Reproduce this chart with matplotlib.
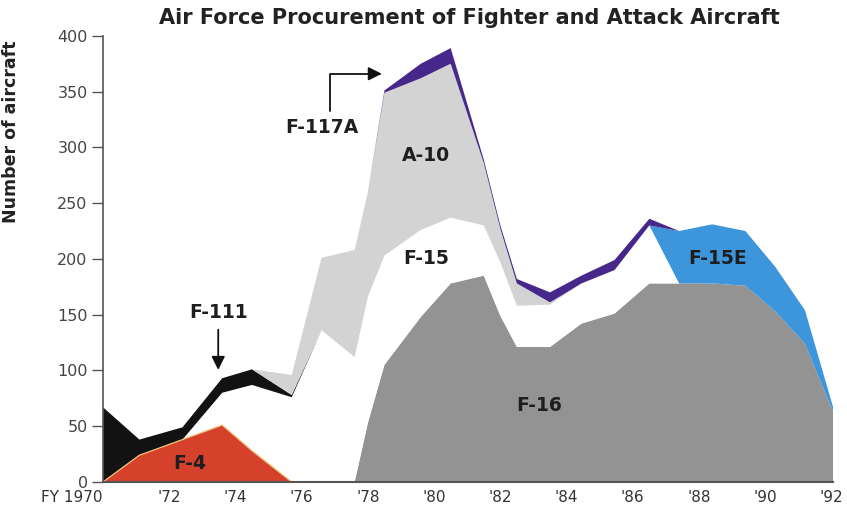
import matplotlib.pyplot as plt
import matplotlib.transforms as mtransforms
import numpy as np

# fiscal years (vertex positions)
years = [1970.0, 1971.1, 1972.4, 1973.6, 1974.5, 1975.7, 1976.6, 1977.6, 1978.0, 1978.5,
         1979.6, 1980.5, 1981.5, 1982.0, 1982.5, 1983.5, 1984.45, 1985.45, 1986.5, 1987.4,
         1988.4, 1989.4, 1990.3, 1991.2, 1992.05]

# number of aircraft per type (stack order bottom -> top)
f4    = [0, 24, 38, 51, 28, 0, 0, 0, 0, 0, 0, 0, 0, 0, 0, 0, 0, 0, 0, 0, 0, 0, 0, 0, 0]
f16   = [0, 0, 0, 0, 0, 0, 0, 0, 53, 105, 148, 178, 185, 149, 121, 121, 142, 151, 178, 178, 178, 176, 153, 124, 63]
f15   = [0, 0, 0, 29, 59, 76, 136, 112, 113, 98, 78, 59, 45, 48, 37, 38, 36, 39, 52, 0, 0, 0, 0, 0, 0]
f15e  = [0, 0, 0, 0, 0, 0, 0, 0, 0, 0, 0, 0, 0, 0, 0, 0, 0, 0, 0, 47, 53, 49, 40, 30, 4]
f111  = [67, 14, 11, 13, 14, 2, 0, 0, 0, 0, 0, 0, 0, 0, 0, 0, 0, 0, 0, 0, 0, 0, 0, 0, 0]
a10   = [0, 0, 0, 0, 0, 18, 65, 96, 94, 146, 136, 138, 56, 30, 20, 2, 0, 0, 0, 0, 0, 0, 0, 0, 0]
f117a = [0, 0, 0, 0, 0, 0, 0, 0, 0, 2, 13, 14, 3, 3, 4, 9, 7, 9, 6, 0, 0, 0, 0, 0, 0]

colors = ["#d5412b", "#939393", "#ffffff", "#3d95dc", "#121212", "#d3d3d3", "#47288a"]

tick_years = [1970, 1972, 1974, 1976, 1978, 1980, 1982, 1984, 1986, 1988, 1990, 1992]
tick_labels = ["FY 1970", "'72", "'74", "'76", "'78", "'80", "'82", "'84", "'86", "'88", "'90", "'92"]

fig = plt.figure(figsize=(8.47, 5.14), dpi=100)
ax = fig.add_axes([0.1216, 0.0623, 0.862, 0.868])

ax.stackplot(years, f4, f16, f15, f15e, f111, a10, f117a, colors=colors, lw=0)

# thin light edge on top of the F-4 wedge
ax.plot(years[:6], f4[:6], color="#f2c27a", lw=0.9)

ax.set_xlim(1970, 1992.05)
ax.set_ylim(0, 400)
ax.set_yticks(np.arange(0, 401, 50))
ax.set_xticks(tick_years)
ax.set_xticklabels(tick_labels)
xl = ax.get_xticklabels()
xl[0].set_horizontalalignment("right")
xl[-1].set_transform(xl[-1].get_transform() +
                     mtransforms.ScaledTranslation(-6 / 72, 0, fig.dpi_scale_trans))

ax.tick_params(axis="y", direction="out", length=8, width=1, color="#555555",
               labelsize=11.5, labelcolor="#444444", pad=3)
ax.tick_params(axis="x", length=0, labelsize=11, labelcolor="#333333", pad=6)

for s in ["top", "right"]:
    ax.spines[s].set_visible(False)
ax.spines["left"].set_color("#555555")
ax.spines["bottom"].set_color("#555555")
ax.spines["left"].set_linewidth(1.2)
ax.spines["bottom"].set_linewidth(1.5)

ax.set_ylabel("Number of aircraft", fontsize=12.5, fontweight="bold", color="#222222")
ax.yaxis.set_label_coords(-0.114, 0.785)

fig.text(0.554, 0.965, "Air Force Procurement of Fighter and Attack Aircraft",
         ha="center", va="center", fontsize=15, fontweight="bold", color="#222222")

lab = dict(ha="center", va="center", fontsize=13.5, fontweight="bold", color="#1e1e1e")
ax.text(1972.63, 17, "F-4", **lab)
ax.text(1983.17, 69, "F-16", **lab)
ax.text(1979.75, 200, "F-15", **lab)
ax.text(1979.75, 293, "A-10", **lab)
ax.text(1988.55, 200, "F-15E", **lab)
ax.text(1973.48, 152, "F-111", **lab)
ax.text(1976.6, 318, "F-117A", **lab)

ax.annotate("", xy=(1973.48, 98), xytext=(1973.48, 139),
            arrowprops=dict(arrowstyle="-|>", color="#111111", lw=1.3, mutation_scale=20))
ax.annotate("", xy=(1978.42, 366), xytext=(1976.85, 333),
            arrowprops=dict(arrowstyle="-|>", color="#111111", lw=1.3, mutation_scale=20,
                            connectionstyle="angle,angleA=90,angleB=0,rad=0",
                            shrinkA=0, shrinkB=0))

fig.savefig("out.png", dpi=100)
